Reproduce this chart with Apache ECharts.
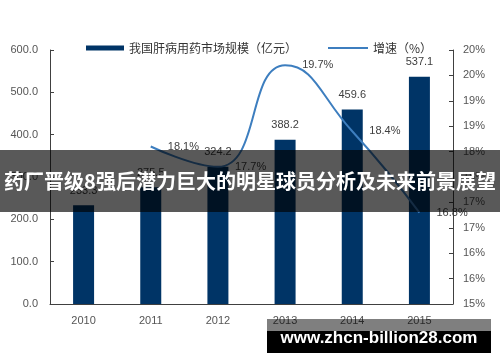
<!DOCTYPE html>
<html>
<head>
<meta charset="utf-8">
<script src="https://cdn.jsdelivr.net/npm/echarts@6/dist/echarts.min.js"></script>
<style>
html,body{margin:0;padding:0;background:#fff;}
#main{width:500px;height:362px;}
</style>
</head>
<body>
<div id="main"></div>
<script>
const years = ['2010', '2011', '2012', '2013', '2014', '2015'];
const marketSize = [233.3, 275.5, 324.2, 388.2, 459.6, 537.1];
const growthRate = [null, 18.1, 17.7, 19.7, 18.4, 16.8];
const barName = '我国肝病用药市场规模（亿元）';
const lineName = '增速（%）';
const bannerText = '药厂晋级8强后潜力巨大的明星球员分析及未来前景展望';
const watermarkText = 'www.zhcn-billion28.com';

const chart = echarts.init(document.getElementById('main'));
const axisFont = { color: '#555', fontSize: 11, fontFamily: 'Liberation Sans, Arial, sans-serif' };
chart.setOption({
  animation: false,
  grid: { left: 50, right: 47, top: 50, bottom: 58, containLabel: false },
  legend: [
    { data: [{ name: barName, icon: 'rect' }], left: 81, top: 37, itemWidth: 38, itemHeight: 5,
      textStyle: { color: '#333', fontSize: 12, fontFamily: 'Noto Sans CJK SC' }, itemGap: 4 },
    { data: [{ name: lineName, icon: 'rect' }], left: 323, top: 37, itemWidth: 40, itemHeight: 2,
      textStyle: { color: '#333', fontSize: 12, fontFamily: 'Noto Sans CJK SC' }, itemGap: 4 }
  ],
  xAxis: {
    type: 'category', data: years, boundaryGap: true,
    axisLine: { lineStyle: { color: '#404040', width: 1 } },
    axisTick: { inside: true, length: 4, lineStyle: { color: '#404040' } },
    axisLabel: Object.assign({ margin: 11 }, axisFont),
    splitLine: { show: false }
  },
  yAxis: [
    { type: 'value', min: 0, max: 600, interval: 100,
      axisLine: { show: true, lineStyle: { color: '#404040' } },
      axisTick: { show: true, inside: true, length: 4, lineStyle: { color: '#404040' } },
      axisLabel: Object.assign({ margin: 12, formatter: v => v.toFixed(1) }, axisFont),
      splitLine: { show: false } },
    { type: 'value', min: 15, max: 20, interval: 0.5, position: 'right',
      axisLine: { show: true, lineStyle: { color: '#404040' } },
      axisTick: { show: true, inside: true, length: 4, lineStyle: { color: '#404040' } },
      axisLabel: Object.assign({ margin: 10, formatter: v => Math.round(v + 1e-9) + '%' }, axisFont),
      splitLine: { show: false } }
  ],
  series: [
    { name: barName, type: 'bar', data: marketSize, barWidth: 21,
      itemStyle: { color: '#003466' },
      label: { show: true, position: 'top', distance: 9, color: '#404040', fontSize: 11,
        fontFamily: 'Liberation Sans, Arial, sans-serif', formatter: p => p.value.toFixed(1) } },
    { name: lineName, type: 'line', yAxisIndex: 1, data: growthRate, smooth: true,
      symbol: 'circle', symbolSize: 0.1, showSymbol: true,
      lineStyle: { color: '#3d7ebf', width: 2 }, itemStyle: { color: '#3d7ebf' },
      label: { show: true, position: 'right', distance: 17, color: '#404040', fontSize: 11,
        fontFamily: 'Liberation Sans, Arial, sans-serif', formatter: p => p.value.toFixed(1) + '%' } }
  ],
  graphic: [
    { type: 'rect', z: 100, shape: { x: 0, y: 150, width: 500, height: 62 }, style: { fill: 'rgba(0,0,0,0.65)' } },
    { type: 'text', z: 101, x: 250, y: 181, style: { text: bannerText, fill: '#fff', font: 'bold 20px "Noto Sans CJK SC"', textAlign: 'center', textVerticalAlign: 'middle' } },
    { type: 'rect', z: 100, shape: { x: 267, y: 319, width: 224, height: 12 }, style: { fill: 'rgba(0,0,0,0.5)' } },
    { type: 'rect', z: 100, shape: { x: 267, y: 331, width: 224, height: 22 }, style: { fill: '#000' } },
    { type: 'text', z: 101, x: 379, y: 338, style: { text: watermarkText, fill: '#fff', font: 'bold 17px "Liberation Sans"', textAlign: 'center', textVerticalAlign: 'middle' } }
  ]
});
</script>
</body>
</html>
